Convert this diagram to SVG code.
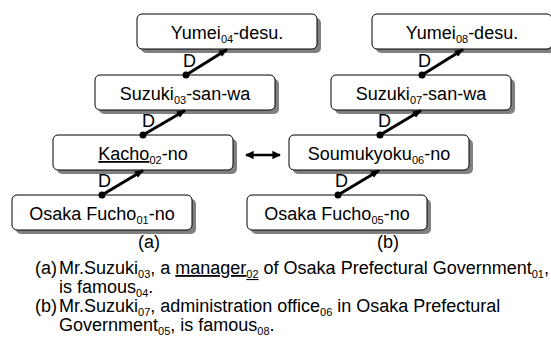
<svg xmlns="http://www.w3.org/2000/svg" width="551" height="345" viewBox="0 0 551 345">
<style>
text{font-family:"Liberation Sans",Arial,sans-serif;font-size:18px;fill:#000}
.nt{text-anchor:middle}
.sub{font-size:11px}
.box{fill:#fff;stroke:#000;stroke-width:1}
.sh{fill:#808080}
.dep{stroke:#000;stroke-width:3;fill:none;marker-end:url(#ah)}
.dot{fill:#000}
</style>
<defs>
<marker id="ah" viewBox="0 0 10 10" refX="9" refY="5" markerWidth="3" markerHeight="3" orient="auto" markerUnits="strokeWidth">
<path d="M0,1 L10,5 L0,9 z" fill="#000"/>
</marker>
<marker id="ah2" viewBox="0 0 10 10" refX="9" refY="5" markerWidth="3.4" markerHeight="3.4" orient="auto-start-reverse" markerUnits="strokeWidth">
<path d="M0,0 L10,5 L0,10 z" fill="#000"/>
</marker>
</defs>

<g id="a1">
<rect class="sh" x="16" y="199" width="180" height="35" rx="5"/>
<rect class="box" x="12" y="195" width="180" height="35" rx="5"/>
<text class="nt" x="102" y="220">Osaka Fucho<tspan class="sub" dy="4">01</tspan><tspan dy="-4">-no</tspan></text>
</g>
<g id="a2">
<rect class="sh" x="57" y="139" width="180" height="35" rx="5"/>
<rect class="box" x="53" y="135" width="180" height="35" rx="5"/>
<text class="nt" x="143" y="160"><tspan text-decoration="underline">Kacho</tspan><tspan class="sub" dy="4">02</tspan><tspan dy="-4">-no</tspan></text>
</g>
<g id="a3">
<rect class="sh" x="99" y="79" width="180" height="35" rx="5"/>
<rect class="box" x="95" y="75" width="180" height="35" rx="5"/>
<text class="nt" x="185" y="100">Suzuki<tspan class="sub" dy="4">03</tspan><tspan dy="-4">-san-wa</tspan></text>
</g>
<g id="a4">
<rect class="sh" x="141" y="18" width="180" height="35" rx="5"/>
<rect class="box" x="137" y="14" width="180" height="35" rx="5"/>
<text class="nt" x="227" y="39">Yumei<tspan class="sub" dy="4">04</tspan><tspan dy="-4">-desu.</tspan></text>
</g>

<g id="b1">
<rect class="sh" x="251" y="199" width="180" height="35" rx="5"/>
<rect class="box" x="247" y="195" width="180" height="35" rx="5"/>
<text class="nt" x="337" y="220">Osaka Fucho<tspan class="sub" dy="4">05</tspan><tspan dy="-4">-no</tspan></text>
</g>
<g id="b2">
<rect class="sh" x="293" y="139" width="180" height="35" rx="5"/>
<rect class="box" x="289" y="135" width="180" height="35" rx="5"/>
<text class="nt" x="379" y="160">Soumukyoku<tspan class="sub" dy="4">06</tspan><tspan dy="-4">-no</tspan></text>
</g>
<g id="b3">
<rect class="sh" x="335" y="79" width="180" height="35" rx="5"/>
<rect class="box" x="331" y="75" width="180" height="35" rx="5"/>
<text class="nt" x="421" y="100">Suzuki<tspan class="sub" dy="4">07</tspan><tspan dy="-4">-san-wa</tspan></text>
</g>
<g id="b4">
<rect class="sh" x="376" y="18" width="180" height="35" rx="5"/>
<rect class="box" x="372" y="14" width="180" height="35" rx="5"/>
<text class="nt" x="462" y="39">Yumei<tspan class="sub" dy="4">08</tspan><tspan dy="-4">-desu.</tspan></text>
</g>

<g id="connectors">
<line class="dep" x1="102" y1="195" x2="143" y2="170.5"/>
<circle class="dot" cx="102" cy="195" r="3.5"/>
<text x="98" y="187">D</text>
<line class="dep" x1="143" y1="135" x2="185" y2="110.5"/>
<circle class="dot" cx="143" cy="135" r="3.5"/>
<text x="142" y="127">D</text>
<line class="dep" x1="186" y1="75" x2="227" y2="49.5"/>
<circle class="dot" cx="186" cy="75" r="3.5"/>
<text x="183" y="67">D</text>

<line class="dep" x1="338" y1="195" x2="379" y2="170.5"/>
<circle class="dot" cx="338" cy="195" r="3.5"/>
<text x="335" y="187">D</text>
<line class="dep" x1="380" y1="135" x2="421" y2="110.5"/>
<circle class="dot" cx="380" cy="135" r="3.5"/>
<text x="378" y="127">D</text>
<line class="dep" x1="422" y1="75" x2="463" y2="49.5"/>
<circle class="dot" cx="422" cy="75" r="3.5"/>
<text x="418" y="67">D</text>

<line x1="246" y1="155" x2="280" y2="155" stroke="#000" stroke-width="2.5" marker-start="url(#ah2)" marker-end="url(#ah2)"/>
</g>

<text class="nt" x="149" y="248">(a)</text>
<text class="nt" x="388" y="248">(b)</text>

<g id="caption">
<text x="35" y="274">(a)</text>
<text x="59" y="274">Mr.Suzuki<tspan class="sub" dy="4">03</tspan><tspan dy="-4">, a </tspan><tspan text-decoration="underline">manager<tspan class="sub" dy="4">02</tspan></tspan><tspan dy="-4"> of Osaka Prefectural Government</tspan><tspan class="sub" dy="4">01</tspan><tspan dy="-4">,</tspan></text>
<text x="59" y="293">is famous<tspan class="sub" dy="4">04</tspan><tspan dy="-4">.</tspan></text>
<text x="35" y="312">(b)</text>
<text x="59" y="312">Mr.Suzuki<tspan class="sub" dy="4">07</tspan><tspan dy="-4">, administration office</tspan><tspan class="sub" dy="4">06</tspan><tspan dy="-4"> in Osaka Prefectural</tspan></text>
<text x="59" y="331">Government<tspan class="sub" dy="4">05</tspan><tspan dy="-4">, is famous</tspan><tspan class="sub" dy="4">08</tspan><tspan dy="-4">.</tspan></text>
</g>
</svg>
